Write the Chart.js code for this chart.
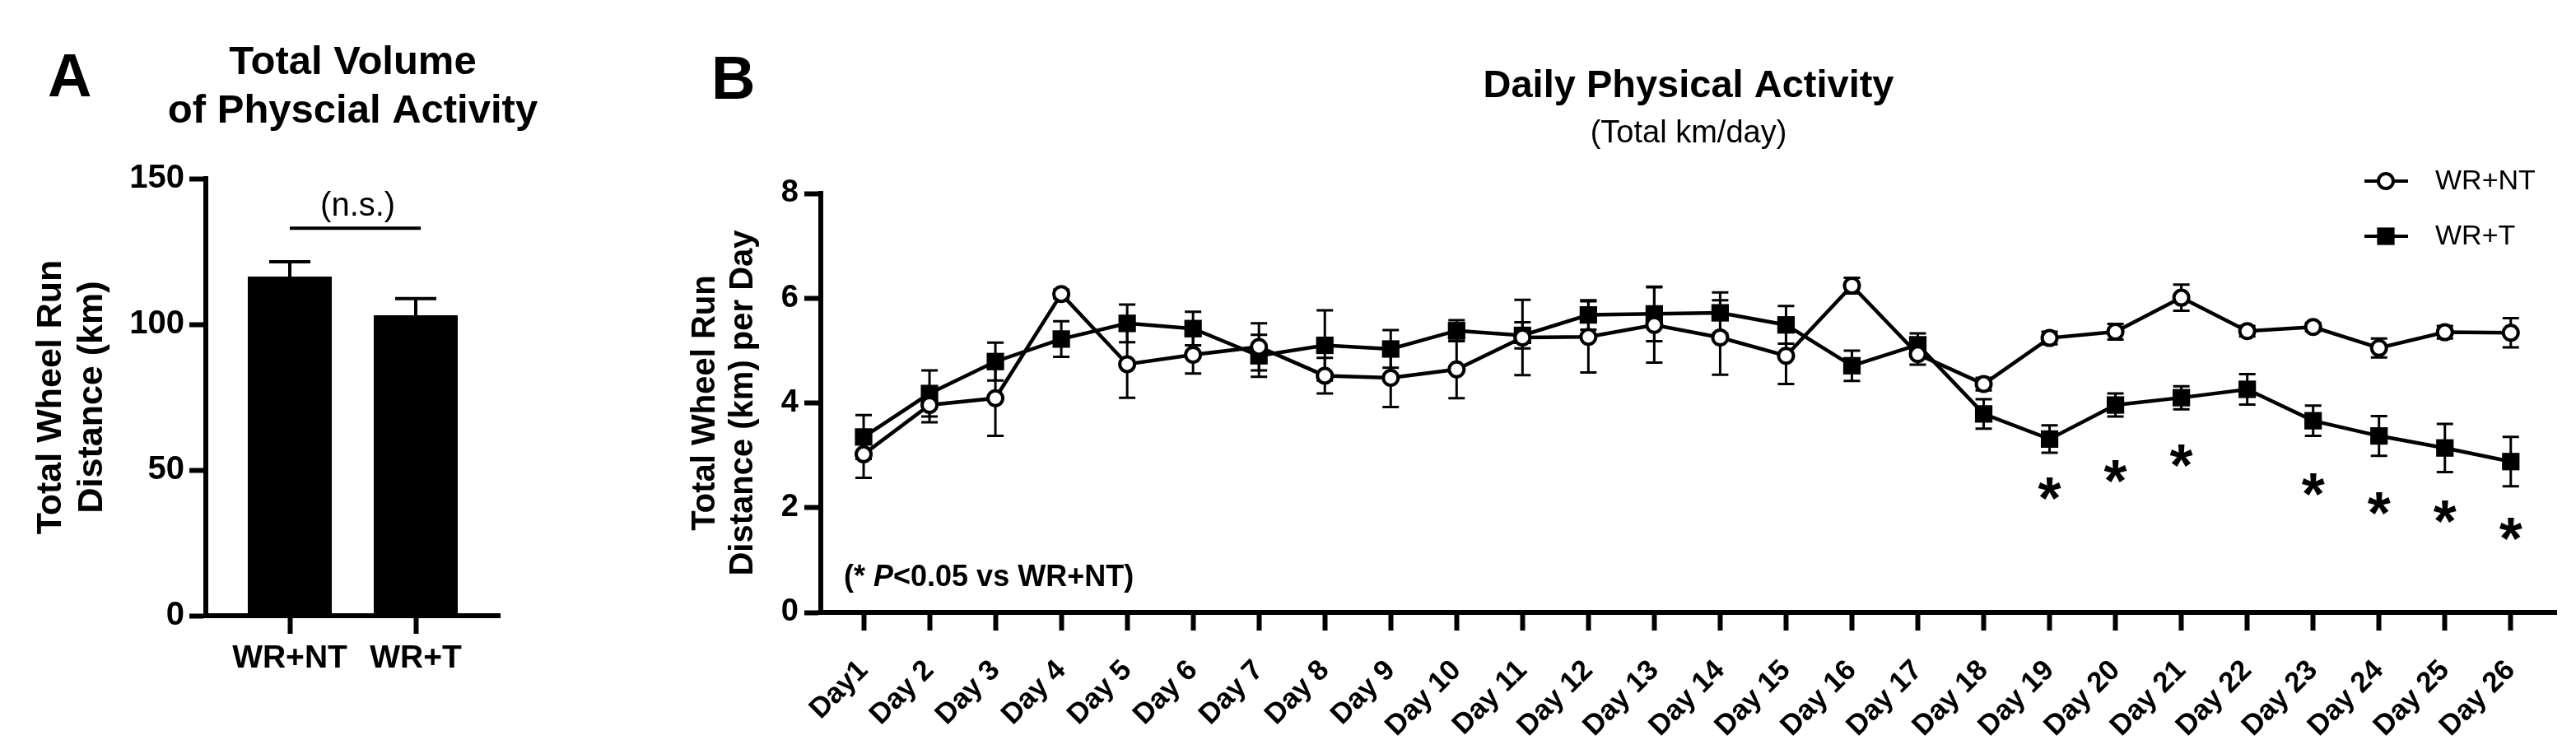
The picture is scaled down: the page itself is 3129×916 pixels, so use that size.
<!DOCTYPE html>
<html>
<head>
<meta charset="utf-8">
<script src="https://cdn.jsdelivr.net/npm/chart.js@4.4.1/dist/chart.umd.min.js"></script>
<style>
  html, body { margin: 0; padding: 0; background: #fff; }
  #wrap { position: relative; width: 3129px; height: 916px; overflow: hidden; background: #fff; }
  canvas { position: absolute; top: 0; }
  #volume { left: 0; }
  #daily { left: 760px; }
</style>
</head>
<body>
<div id="wrap">
  <canvas id="volume" width="760" height="916"></canvas>
  <canvas id="daily" width="2369" height="916"></canvas>
</div>
<script>
// A: total volume
const groups = ['WR+NT', 'WR+T'];
const totalMean = [116.4, 103.1];
const totalSem = [5.1, 5.7];
const nsLevel = 133;   // n.s. bracket height (km)

// B: daily activity
const dayLabels = ['Day1', 'Day 2', 'Day 3', 'Day 4', 'Day 5', 'Day 6', 'Day 7', 'Day 8', 'Day 9',
  'Day 10', 'Day 11', 'Day 12', 'Day 13', 'Day 14', 'Day 15', 'Day 16', 'Day 17', 'Day 18',
  'Day 19', 'Day 20', 'Day 21', 'Day 22', 'Day 23', 'Day 24', 'Day 25', 'Day 26'];
const ntMean = [3.02, 3.96, 4.09, 6.08, 4.74, 4.92, 5.07, 4.52, 4.48, 4.64, 5.25, 5.26, 5.49,
  5.25, 4.90, 6.24, 4.93, 4.36, 5.24, 5.36, 6.01, 5.37, 5.45, 5.05, 5.35, 5.34];
const ntSem = [0.45, 0.33, 0.72, 0.08, 0.64, 0.36, 0.45, 0.34, 0.56, 0.55, 0.72, 0.68, 0.72,
  0.71, 0.54, 0.15, 0.20, 0.12, 0.12, 0.15, 0.25, 0.10, 0.08, 0.18, 0.12, 0.28];
const tMean = [3.35, 4.18, 4.79, 5.22, 5.52, 5.42, 4.90, 5.10, 5.03, 5.38, 5.29, 5.68, 5.70,
  5.72, 5.49, 4.71, 5.11, 3.79, 3.31, 3.96, 4.10, 4.26, 3.66, 3.37, 3.14, 2.88];
const tSem = [0.42, 0.44, 0.36, 0.34, 0.36, 0.32, 0.40, 0.67, 0.36, 0.20, 0.25, 0.28, 0.52,
  0.39, 0.36, 0.29, 0.22, 0.28, 0.26, 0.22, 0.22, 0.29, 0.29, 0.38, 0.46, 0.47];
const sigDays = [19, 20, 21, 23, 24, 25, 26];
const sigY = [2.36, 2.70, 3.00, 2.44, 2.08, 1.92, 1.60];

const FONT = "'Liberation Sans', Arial, Helvetica, sans-serif";
Chart.defaults.font.family = FONT;
Chart.defaults.color = '#000';

const axisGrid = { drawOnChartArea: false, drawTicks: true, tickWidth: 6, tickColor: '#000', color: '#000', offset: false };
const axisBorder = { display: true, color: '#000', width: 6 };

// error bars: 'both' under the lines, 'up' on top of the bars
function drawErrors(chart, mode) {
  const ctx = chart.ctx;
  chart.data.datasets.forEach((ds, di) => {
    if (!ds.errors || ds.errorMode !== mode) return;
    const meta = chart.getDatasetMeta(di);
    const ys = chart.scales[meta.yAxisID];
    ctx.save();
    ctx.strokeStyle = '#000';
    ctx.lineWidth = ds.errorWidth;
    meta.data.forEach((el, i) => {
      const v = ds.data[i].y, e = ds.errors[i];
      const top = ys.getPixelForValue(v + e);
      const bot = mode === 'up' ? el.y : ys.getPixelForValue(v - e);
      ctx.beginPath();
      ctx.moveTo(el.x, top); ctx.lineTo(el.x, bot);
      ctx.moveTo(el.x - ds.capHalf, top); ctx.lineTo(el.x + ds.capHalf, top);
      if (mode === 'both') { ctx.moveTo(el.x - ds.capHalf, bot); ctx.lineTo(el.x + ds.capHalf, bot); }
      ctx.stroke();
    });
    ctx.restore();
  });
}
const errorBars = {
  id: 'errorBars',
  beforeDatasetsDraw(chart) { drawErrors(chart, 'both'); },
  afterDatasetsDraw(chart) { drawErrors(chart, 'up'); }
};

const panelA = {
  id: 'panelA',
  afterDraw(chart) {
    const { ctx, chartArea, scales: { x, y } } = chart;
    ctx.save();
    ctx.fillStyle = '#000';
    ctx.font = `bold 74px ${FONT}`;
    ctx.fillText('A', 58, 117);
    const cx = (chartArea.left + chartArea.right) / 2;
    ctx.font = `bold 49px ${FONT}`;
    ctx.textAlign = 'center';
    ctx.fillText('Total Volume', cx, 90);
    ctx.fillText('of Physcial Activity', cx, 149);
    // n.s. bracket
    const by = y.getPixelForValue(nsLevel);
    ctx.strokeStyle = '#000';
    ctx.lineWidth = 4;
    ctx.beginPath();
    ctx.moveTo(x.getPixelForValue(1), by);
    ctx.lineTo(x.getPixelForValue(2.04), by);
    ctx.stroke();
    ctx.font = `40px ${FONT}`;
    ctx.fillText('(n.s.)', x.getPixelForValue(1.54), by - 15);
    ctx.restore();
  }
};

new Chart(document.getElementById('volume'), {
  type: 'bar',
  data: {
    datasets: [{
      data: groups.map((g, i) => ({ x: i + 1, y: totalMean[i] })),
      backgroundColor: '#000',
      borderWidth: 0,
      barPercentage: 1,
      categoryPercentage: 0.667,
      errors: totalSem, errorMode: 'up', errorWidth: 4, capHalf: 25
    }]
  },
  options: {
    responsive: false, animation: false, devicePixelRatio: 1, events: [],
    layout: { padding: { left: 0, right: 153, top: 217, bottom: 0 } },
    plugins: { legend: { display: false }, tooltip: { enabled: false } },
    scales: {
      x: {
        type: 'linear', min: 1 / 3, max: 8 / 3, offset: false,
        afterBuildTicks: s => { s.ticks = groups.map((g, i) => ({ value: i + 1 })); },
        afterFit: s => { s.height = 168; },
        grid: Object.assign({ tickLength: 22 }, axisGrid),
        border: axisBorder,
        ticks: { callback: v => groups[v - 1], font: { size: 39, weight: 'bold' }, padding: 7, maxRotation: 0, autoSkip: false }
      },
      y: {
        min: 0, max: 150,
        afterFit: s => { s.width = 250; },
        grid: Object.assign({ tickLength: 20 }, axisGrid),
        border: axisBorder,
        ticks: { stepSize: 50, font: { size: 40, weight: 'bold' }, padding: 6 },
        title: {
          display: true, text: ['Total Wheel Run', 'Distance (km)'],
          font: { size: 43, weight: 'bold', lineHeight: 1.17 }, padding: { top: 37, bottom: 0 }
        }
      }
    }
  },
  plugins: [errorBars, panelA]
});

// B
function drawMarker(ctx, ds, x, y) {
  ctx.save();
  ctx.lineWidth = ds.pointBorderWidth;
  ctx.strokeStyle = '#000';
  ctx.fillStyle = ds.pointBackgroundColor;
  if (ds.pointStyle === 'rect') {
    const h = Math.SQRT1_2 * ds.pointRadius;
    ctx.fillRect(x - h, y - h, 2 * h, 2 * h);
  } else {
    ctx.beginPath();
    ctx.arc(x, y, ds.pointRadius, 0, Math.PI * 2);
    ctx.fill();
    ctx.stroke();
  }
  ctx.restore();
}

const panelB = {
  id: 'panelB',
  afterDraw(chart) {
    const { ctx, chartArea, scales: { x, y } } = chart;
    ctx.save();
    ctx.fillStyle = '#000';
    ctx.font = `bold 74px ${FONT}`;
    ctx.fillText('B', 104, 120);

    // legend
    chart.data.datasets.forEach((ds, i) => {
      const ly = 220 + i * 67;
      const lx = chartArea.right - 233;
      ctx.strokeStyle = '#000';
      ctx.lineWidth = 4;
      ctx.beginPath(); ctx.moveTo(lx, ly); ctx.lineTo(lx + 53, ly); ctx.stroke();
      drawMarker(ctx, ds, lx + 26, ly);
      ctx.font = `34px ${FONT}`;
      ctx.textBaseline = 'middle';
      ctx.fillText(ds.label, lx + 86, ly + 1);
    });

    // significance marks
    ctx.font = `bold 72px ${FONT}`;
    ctx.textAlign = 'center';
    ctx.textBaseline = 'alphabetic';
    const m = ctx.measureText('*');
    const shift = (m.actualBoundingBoxAscent - m.actualBoundingBoxDescent) / 2;
    sigDays.forEach((d, i) => {
      ctx.fillText('*', x.getPixelForValue(d), y.getPixelForValue(sigY[i]) + shift);
    });

    // note
    ctx.textAlign = 'left';
    let tx = chartArea.left + 28;
    const ty = 712;
    const parts = [['(*', 'bold'], [' ', 'bold'], ['P', 'italic bold'], ['<0.05 vs WR+NT)', 'bold']];
    parts.forEach(([t, w]) => {
      ctx.font = `${w} 36px ${FONT}`;
      ctx.fillText(t, tx, ty);
      tx += ctx.measureText(t).width;
    });
    ctx.restore();
  }
};

new Chart(document.getElementById('daily'), {
  type: 'line',
  data: {
    datasets: [{
      label: 'WR+NT',
      data: ntMean.map((v, i) => ({ x: i + 1, y: v })),
      borderColor: '#000', borderWidth: 4.5, tension: 0, fill: false, clip: false,
      pointStyle: 'circle', pointRadius: 9, pointBorderWidth: 4,
      pointBackgroundColor: '#fff', pointBorderColor: '#000',
      errors: ntSem, errorMode: 'both', errorWidth: 3, capHalf: 10
    }, {
      label: 'WR+T',
      data: tMean.map((v, i) => ({ x: i + 1, y: v })),
      borderColor: '#000', borderWidth: 4.5, tension: 0, fill: false, clip: false,
      pointStyle: 'rect', pointRadius: 15, pointBorderWidth: 0,
      pointBackgroundColor: '#000', pointBorderColor: '#000',
      errors: tSem, errorMode: 'both', errorWidth: 3, capHalf: 10
    }]
  },
  options: {
    responsive: false, animation: false, devicePixelRatio: 1, events: [],
    layout: { padding: { left: 0, right: 24, top: 0, bottom: 0 } },
    plugins: {
      legend: { display: false }, tooltip: { enabled: false },
      title: {
        display: true, text: 'Daily Physical Activity', fullSize: false, color: '#000',
        font: { size: 47, weight: 'bold', lineHeight: 1.2 }, padding: { top: 77, bottom: 0 }
      },
      subtitle: {
        display: true, text: '(Total km/day)', fullSize: false, color: '#000',
        font: { size: 38, weight: 'normal', lineHeight: 1.2 }, padding: { top: 6, bottom: 50 }
      }
    },
    scales: {
      x: {
        type: 'linear', min: 0.35, max: 26.69, offset: false,
        afterBuildTicks: s => { s.ticks = dayLabels.map((d, i) => ({ value: i + 1 })); },
        afterFit: s => { s.height = 172; },
        grid: Object.assign({ tickLength: 22 }, axisGrid),
        border: axisBorder,
        ticks: {
          callback: v => dayLabels[v - 1], font: { size: 35, weight: 'bold' },
          padding: 28, minRotation: 45, maxRotation: 45, autoSkip: false
        }
      },
      y: {
        min: 0, max: 8,
        afterFit: s => { s.width = 237; },
        grid: Object.assign({ tickLength: 20 }, axisGrid),
        border: axisBorder,
        ticks: { stepSize: 2, font: { size: 38, weight: 'bold' }, padding: 7 },
        title: {
          display: true, text: ['Total Wheel Run', 'Distance (km) per Day'],
          font: { size: 40, weight: 'bold', lineHeight: 1.15 }, padding: { top: 74, bottom: 0 }
        }
      }
    }
  },
  plugins: [errorBars, panelB]
});
</script>
</body>
</html>
